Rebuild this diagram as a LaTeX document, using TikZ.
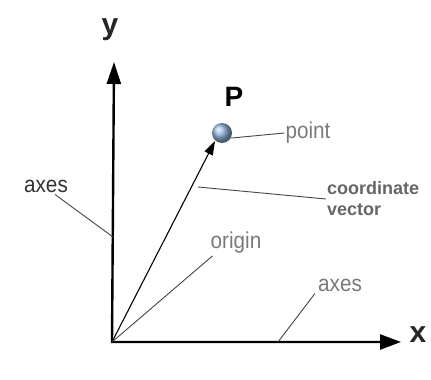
\documentclass[tikz,border=0pt]{standalone}
\usepackage{fontspec}
\setmainfont{Liberation Sans}
\newfontfamily\lblfont[FakeStretch=0.9]{Liberation Sans}
\usepackage{xcolor}
\usetikzlibrary{arrows.meta,positioning,calc}

\definecolor{ballblue}{HTML}{94B9DE}
\definecolor{labelgray}{HTML}{7A7A7A}
\definecolor{leadergray}{HTML}{454545}

\tikzset{
  axisline/.style={line width=2.4pt, line join=miter, {Triangle[length=22pt,width=14pt]}-{Triangle[length=21pt,width=15pt]}},
  vecline/.style={line width=1.1pt, -{Triangle[length=14pt,width=9pt]}},
  leader/.style={leadergray, line width=0.9pt},
  lbl/.style={font=\lblfont\fontsize{23}{26}\selectfont, text=labelgray, inner sep=1pt},
  axlbl/.style={font=\fontsize{30}{34}\selectfont\bfseries, text=black!85, inner sep=0pt}
}

\begin{document}
\begin{tikzpicture}[x=1pt, y=-1pt]
\useasboundingbox (0,0) rectangle (431,380);
\fill[white] (0,0) rectangle (431,380);
% axes and origin
\coordinate (O) at (112,342);
\coordinate (ytip) at (114,62);
\coordinate (xtip) at (401,342);
\draw[axisline] (ytip) -- (O) -- (xtip);
\node[axlbl] (ylab) at (110,30) {y};
\node[axlbl] (xlab) at (418,335) {x};
% the point and its vector
\coordinate (vtip) at (215,141);
\draw[vecline] (O) -- (vtip);
\node[circle, inner sep=0pt, minimum size=20pt, shading=ball, ball color=ballblue] (ball) at (222,133) {};
\node[font=\fontsize{28}{32}\selectfont\bfseries, inner sep=0pt] (Plab) at (234,97) {P};
% labels with leader lines
\node[lbl] (pointlab) at (308,133) {point};
\draw[leader] (ball.-30) -- (pointlab.west);
\node[lbl, font=\fontsize{18}{21}\selectfont\bfseries, text=black!60, align=left, anchor=west] (cvlab) at (326,199) {coordinate\\vector};
\coordinate (cvfoot) at (198,187);
\draw[leader] (cvfoot) -- (cvlab.west);
\node[lbl] (origlab) at (236,243) {origin};
\draw[leader] ($(origlab.south west)+(3,1)$) -- (O);
\node[lbl, text=black!80] (axesy) at (46,186) {axes};
\coordinate (yfoot) at (113,237);
\draw[leader] ($(axesy.south)+(9,1)$) -- (yfoot);
\node[lbl] (axesx) at (340,285) {axes};
\coordinate (xfoot) at (278,342);
\draw[leader] ($(axesx.south west)+(-2,1)$) -- (xfoot);
\end{tikzpicture}
\end{document}
